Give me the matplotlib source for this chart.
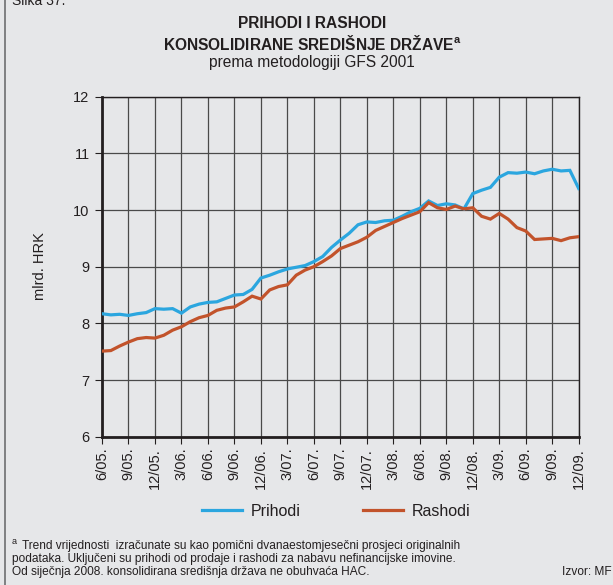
import matplotlib
matplotlib.use('Agg')
import matplotlib.pyplot as plt
from matplotlib.lines import Line2D

plt.rcParams['font.family'] = ['Liberation Sans', 'DejaVu Sans']

# monthly trend, 6/05 - 12/09, billions of HRK
prihodi = [8.17, 8.15, 8.16, 8.14, 8.17, 8.19, 8.26, 8.25, 8.26, 8.18,
           8.29, 8.34, 8.37, 8.38, 8.44, 8.50, 8.51, 8.60, 8.80, 8.85,
           8.91, 8.96, 8.99, 9.02, 9.09, 9.18, 9.34, 9.47, 9.59, 9.74,
           9.79, 9.78, 9.81, 9.82, 9.89, 9.97, 10.03, 10.16, 10.08, 10.11,
           10.09, 10.02, 10.29, 10.35, 10.40, 10.58, 10.66, 10.65, 10.67, 10.64,
           10.69, 10.72, 10.69, 10.70, 10.38]
rashodi = [7.51, 7.52, 7.60, 7.67, 7.73, 7.75, 7.74, 7.79, 7.88, 7.94,
           8.03, 8.10, 8.14, 8.23, 8.27, 8.29, 8.38, 8.48, 8.43, 8.59,
           8.65, 8.68, 8.85, 8.94, 9.00, 9.09, 9.19, 9.32, 9.38, 9.44,
           9.52, 9.64, 9.71, 9.78, 9.85, 9.91, 9.97, 10.13, 10.04, 10.01,
           10.07, 10.02, 10.04, 9.89, 9.84, 9.94, 9.84, 9.69, 9.63, 9.48,
           9.49, 9.50, 9.46, 9.51, 9.53]
tick_labels = ['6/05.', '9/05.', '12/05.', '3/06.', '6/06.', '9/06.', '12/06.',
               '3/07.', '6/07.', '9/07.', '12/07.', '3/08.', '6/08.', '9/08.',
               '12/08.', '3/09.', '6/09.', '9/09.', '12/09.']
y_ticks = [6, 7, 8, 9, 10, 11, 12]

bg = '#e6e7e9'
blue = '#2ba6df'
red = '#c2532b'
ink = '#231f20'

fig = plt.figure(figsize=(6.13, 5.85), dpi=100, facecolor=bg)
ax = fig.add_axes([102 / 613, 1 - 436.7 / 585, 476.7 / 613, 340 / 585])
ax.set_facecolor(bg)

months = list(range(len(prihodi)))
ax.plot(months, prihodi, color=blue, lw=2.3, solid_joinstyle='miter', zorder=3)
ax.plot(months, rashodi, color=red, lw=2.3, solid_joinstyle='miter', zorder=3)

ax.set_xlim(0, len(prihodi) - 1)
ax.set_ylim(6, 12)
ax.set_xticks(range(0, len(prihodi), 3))
ax.set_xticklabels(tick_labels, rotation=90, fontsize=10.5, color=ink)
ax.set_yticks(y_ticks)
ax.set_yticklabels([str(v) for v in y_ticks], fontsize=10.5, color=ink)
ax.tick_params(axis='x', length=5, width=0.8, color=ink, pad=3)
ax.tick_params(axis='y', length=5, width=0.8, color=ink, pad=4)
ax.grid(True, color='#4a4a4a', lw=0.9)
ax.set_axisbelow(True)

for side in ['left', 'bottom']:
    ax.spines[side].set_linewidth(2.0)
    ax.spines[side].set_color(ink)
for side in ['top', 'right']:
    ax.spines[side].set_linewidth(1.0)
    ax.spines[side].set_color(ink)

fig.text(40 / 613, 1 - 266 / 585, 'mlrd. HRK', rotation=90, ha='center',
         va='center', fontsize=10.5, color=ink)

# titles
fig.text(312 / 613, 1 - 23 / 585, 'PRIHODI I RASHODI', ha='center', va='center',
         fontsize=11.2, fontweight='bold', color=ink)
fig.text(312 / 613, 1 - 43 / 585, 'KONSOLIDIRANE SREDIŠNJE DRŽAVE$^\\mathregular{a}$',
         ha='center', va='center', fontsize=11.2, fontweight='bold', color=ink)
fig.text(312 / 613, 1 - 63 / 585, 'prema metodologiji GFS 2001', ha='center',
         va='center', fontsize=11.2, color=ink)
fig.text(12 / 613, 1 - 5 / 585, 'Slika 37.', ha='left', va='baseline',
         fontsize=10, color=ink)

# legend
handles = [Line2D([], [], color=blue, lw=2.3), Line2D([], [], color=red, lw=2.3)]
fig.legend(handles, ['Prihodi', 'Rashodi'], loc='center', ncol=2, frameon=False,
           bbox_to_anchor=(336 / 613, 1 - 511 / 585), fontsize=11.5,
           handlelength=2.5, handletextpad=0.56, columnspacing=3.9,
           labelcolor=ink)

# footnote
fig.text(12 / 613, 1 - 542 / 585, 'a', fontsize=6.5, color=ink, va='center')
fig.text(22 / 613, 1 - 546 / 585,
         'Trend vrijednosti  izračunate su kao pomični dvanaestomjesečni prosjeci originalnih',
         fontsize=8.6, color=ink, va='center')
fig.text(12 / 613, 1 - 559 / 585,
         'podataka. Uključeni su prihodi od prodaje i rashodi za nabavu nefinancijske imovine.',
         fontsize=8.6, color=ink, va='center')
fig.text(12 / 613, 1 - 572 / 585,
         'Od siječnja 2008. konsolidirana središnja država ne obuhvaća HAC.',
         fontsize=8.6, color=ink, va='center')
fig.text(562 / 613, 1 - 572 / 585, 'Izvor: MF', fontsize=8.6, color=ink, va='center')

# frame line on the left edge
fig.add_artist(Line2D([4.5 / 613, 4.5 / 613], [0, 1], color='#6d6e70', lw=1.2))

fig.savefig('out.png', dpi=100, facecolor=bg)
